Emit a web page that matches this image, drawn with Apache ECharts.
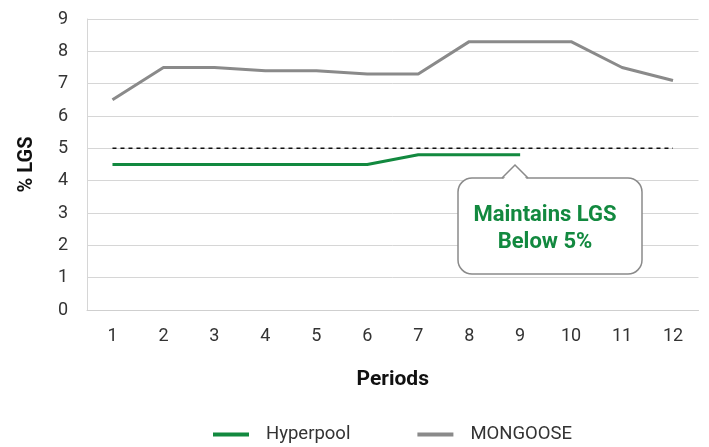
<!DOCTYPE html>
<html>
<head>
<meta charset="utf-8">
<script src="https://cdn.jsdelivr.net/npm/echarts@6/dist/echarts.min.js"></script>
<style>
  html, body { margin: 0; padding: 0; background: #fff; }
  #chart { width: 709px; height: 447px; }
</style>
</head>
<body>
<div id="chart"></div>
<script>
// data
const periods = ['1', '2', '3', '4', '5', '6', '7', '8', '9', '10', '11', '12']
const hyperpool = [4.5, 4.5, 4.5, 4.5, 4.5, 4.5, 4.8, 4.8, 4.8]
const mongoose = [6.5, 7.5, 7.5, 7.4, 7.4, 7.3, 7.3, 8.3, 8.3, 8.3, 7.5, 7.1]
const target = [5, 5, 5, 5, 5, 5, 5, 5, 5, 5, 5, 5]

const green = '#12893f'
const gray = '#8a8a8a'
const font = 'Roboto, "Noto Sans", sans-serif'

const chart = echarts.init(document.getElementById('chart'))

const option = {
    animation: false,
    textStyle: { fontFamily: font },
    grid: { left: 87, right: 10.5, top: 19, bottom: 137 },
    legend: {
        bottom: -2,
        left: 208,
        itemWidth: 36,
        itemHeight: 4,
        itemGap: 67,
        icon: 'rect',
        textStyle: { fontSize: 18.5, color: '#333', fontFamily: font, padding: [0, 0, 0, 12] },
        data: ['Hyperpool', 'MONGOOSE']
    },
    xAxis: {
        type: 'category',
        data: periods,
        boundaryGap: true,
        name: 'Periods',
        nameLocation: 'middle',
        nameGap: 59,
        nameTextStyle: { fontSize: 21, fontWeight: 'bold', color: '#111', fontFamily: font },
        axisLine: { lineStyle: { color: '#cfcfcf', width: 1 } },
        axisTick: { show: false },
        axisLabel: { fontSize: 18, color: '#333', margin: 17, fontFamily: font }
    },
    yAxis: {
        type: 'value',
        min: 0,
        max: 9,
        interval: 1,
        name: '% LGS',
        nameLocation: 'middle',
        nameGap: 50,
        nameTextStyle: { fontSize: 20, fontWeight: 'bold', color: '#111', fontFamily: font },
        axisLine: { show: true, lineStyle: { color: '#d6d6d6', width: 1 } },
        axisTick: { show: false },
        axisLabel: { fontSize: 18, color: '#333', margin: 19, fontFamily: font },
        splitLine: { lineStyle: { color: '#d6d6d6', width: 1 } }
    },
    series: [
        {
            name: 'Target',
            type: 'line',
            data: target,
            symbol: 'none',
            lineStyle: { color: '#111', width: 1.5, type: [4, 4] },
            z: 1
        },
        {
            name: 'MONGOOSE',
            type: 'line',
            data: mongoose,
            symbol: 'none',
            color: gray,
            lineStyle: { color: gray, width: 3 },
            z: 2
        },
        {
            name: 'Hyperpool',
            type: 'line',
            data: hyperpool,
            symbol: 'none',
            color: green,
            lineStyle: { color: green, width: 3 },
            z: 3
        }
    ],
    graphic: [
        // callout box
        {
            type: 'rect',
            shape: { x: 458, y: 178, width: 184, height: 96, r: 14 },
            style: { fill: '#fff', stroke: gray, lineWidth: 1.5 },
            z: 10
        },
        {
            type: 'polygon',
            shape: { points: [[503, 179.5], [515, 166], [527, 179.5]] },
            style: { fill: '#fff' },
            z: 11
        },
        {
            type: 'polyline',
            shape: { points: [[502, 178], [515, 165], [528, 178]] },
            style: { stroke: gray, lineWidth: 1.5, fill: null },
            z: 12
        },
        {
            type: 'text',
            x: 545,
            y: 229,
            style: {
                text: 'Maintains LGS\nBelow 5%',
                fill: green,
                font: 'bold 22px ' + font,
                align: 'center',
                verticalAlign: 'middle',
                lineHeight: 27
            },
            z: 13
        }
    ]
}

chart.setOption(option)
</script>
</body>
</html>
